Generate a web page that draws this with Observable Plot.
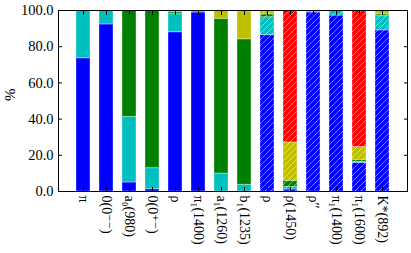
<!DOCTYPE html>
<html><head><meta charset="utf-8">
<script src="https://cdn.jsdelivr.net/npm/d3@7"></script>
<script src="https://cdn.jsdelivr.net/npm/@observablehq/plot@0.6"></script>
<style>body{margin:0;background:#fff} svg{display:block}</style>
</head><body><div id="chart"></div><script>
const categories = ["π","0(0⁻⁻)","a₀(980)","0(0⁺⁻)","ρ","π₁(1400)","a₁(1260)","b₁(1235)","ρ","ρ(1450)","ρ′′","π₁(1400)","π₁(1600)","K*(892)"];
const hatched = [0,0,0,0,0,0,0,0,1,1,1,1,1,1];
const blue   = [73.6,92.3, 5.0, 1.3,88.0,98.9, 0.0, 0.0,86.4, 1.1,98.9,97.2,15.8,89.0];
const cyan   = [26.4, 7.7,36.2,11.6,10.0, 1.1, 9.9, 3.7, 9.9, 1.4, 0.7, 2.8, 0.6, 7.9];
const green  = [ 0.0, 0.0,58.8,87.1, 1.0, 0.0,85.5,80.4, 1.5, 3.4, 0.4, 0.0, 1.1, 0.9];
const yellow = [ 0.0, 0.0, 0.0, 0.0, 1.0, 0.0, 4.6,15.5, 2.2,21.2, 0.0, 0.0, 7.1, 2.2];
const red    = [ 0.0, 0.0, 0.0, 0.0, 0.0, 0.0, 0.0, 0.4, 0.0,72.9, 0.0, 0.0,75.4, 0.0];
const seriesNames = ["b","c","g","y","r"];
const seriesColors = ["#0000ff","#00bfbf","#008000","#bfbf00","#ff0000"];
const yTicks = [0,20,40,60,80,100];

const seriesArrays = [blue, cyan, green, yellow, red];
const data = [];
categories.forEach((c, i) => {
  seriesArrays.forEach((arr, k) => {
    if (arr[i] > 0) data.push({i, s: seriesNames[k], v: arr[i], h: hatched[i]});
  });
});

const font = "'Liberation Serif', 'DejaVu Serif', serif";
const plot = Plot.plot({
  width: 411, height: 253,
  marginLeft: 58, marginRight: 4, marginTop: 10, marginBottom: 62,
  style: {fontFamily: font, fontSize: "13px", color: "black", background: "white"},
  x: {type: "band", domain: d3.range(categories.length), paddingInner: 0.4, paddingOuter: 0.68},
  y: {domain: [0, 100]},
  color: {domain: seriesNames, range: seriesColors},
  marks: [
    Plot.barY(data, {x: "i", y: "v", fill: "s", stroke: "white", strokeOpacity: 0.35, strokeWidth: 1}),
    Plot.barY(data.filter(d => d.h), {x: "i", y: "v", fill: "url(#hatch)"}),
    Plot.axisY({anchor: "left", ticks: yTicks, tickSize: -4, tickPadding: 9, tickFormat: d => d.toFixed(1), label: null, fontSize: 14.5, fontFamily: font}),
    Plot.axisY({anchor: "right", ticks: yTicks, tickSize: -4, tickFormat: () => "", label: null}),
    Plot.axisX({anchor: "bottom", tickSize: -4, tickPadding: 8, tickRotate: 90, tickFormat: i => categories[i], label: null, fontSize: 14, fontFamily: font}),
    Plot.axisX({anchor: "top", tickSize: -4, tickFormat: () => "", label: null}),
    Plot.frame({stroke: "black"}),
    Plot.text(["%"], {frameAnchor: "left", dx: -48, rotate: -90, fontSize: 15, fontFamily: font})
  ]
});

const ns = "http://www.w3.org/2000/svg";
const defs = document.createElementNS(ns, "defs");
const pat = document.createElementNS(ns, "pattern");
pat.setAttribute("id", "hatch");
pat.setAttribute("patternUnits", "userSpaceOnUse");
pat.setAttribute("width", "6");
pat.setAttribute("height", "6");
const p = document.createElementNS(ns, "path");
p.setAttribute("d", "M0,6L6,0M-1.5,1.5L1.5,-1.5M4.5,7.5L7.5,4.5");
p.setAttribute("stroke", "white");
p.setAttribute("stroke-width", "0.8");
p.setAttribute("stroke-opacity", "0.6");
pat.appendChild(p);
defs.appendChild(pat);
plot.insertBefore(defs, plot.firstChild);
document.getElementById("chart").appendChild(plot);
</script></body></html>
